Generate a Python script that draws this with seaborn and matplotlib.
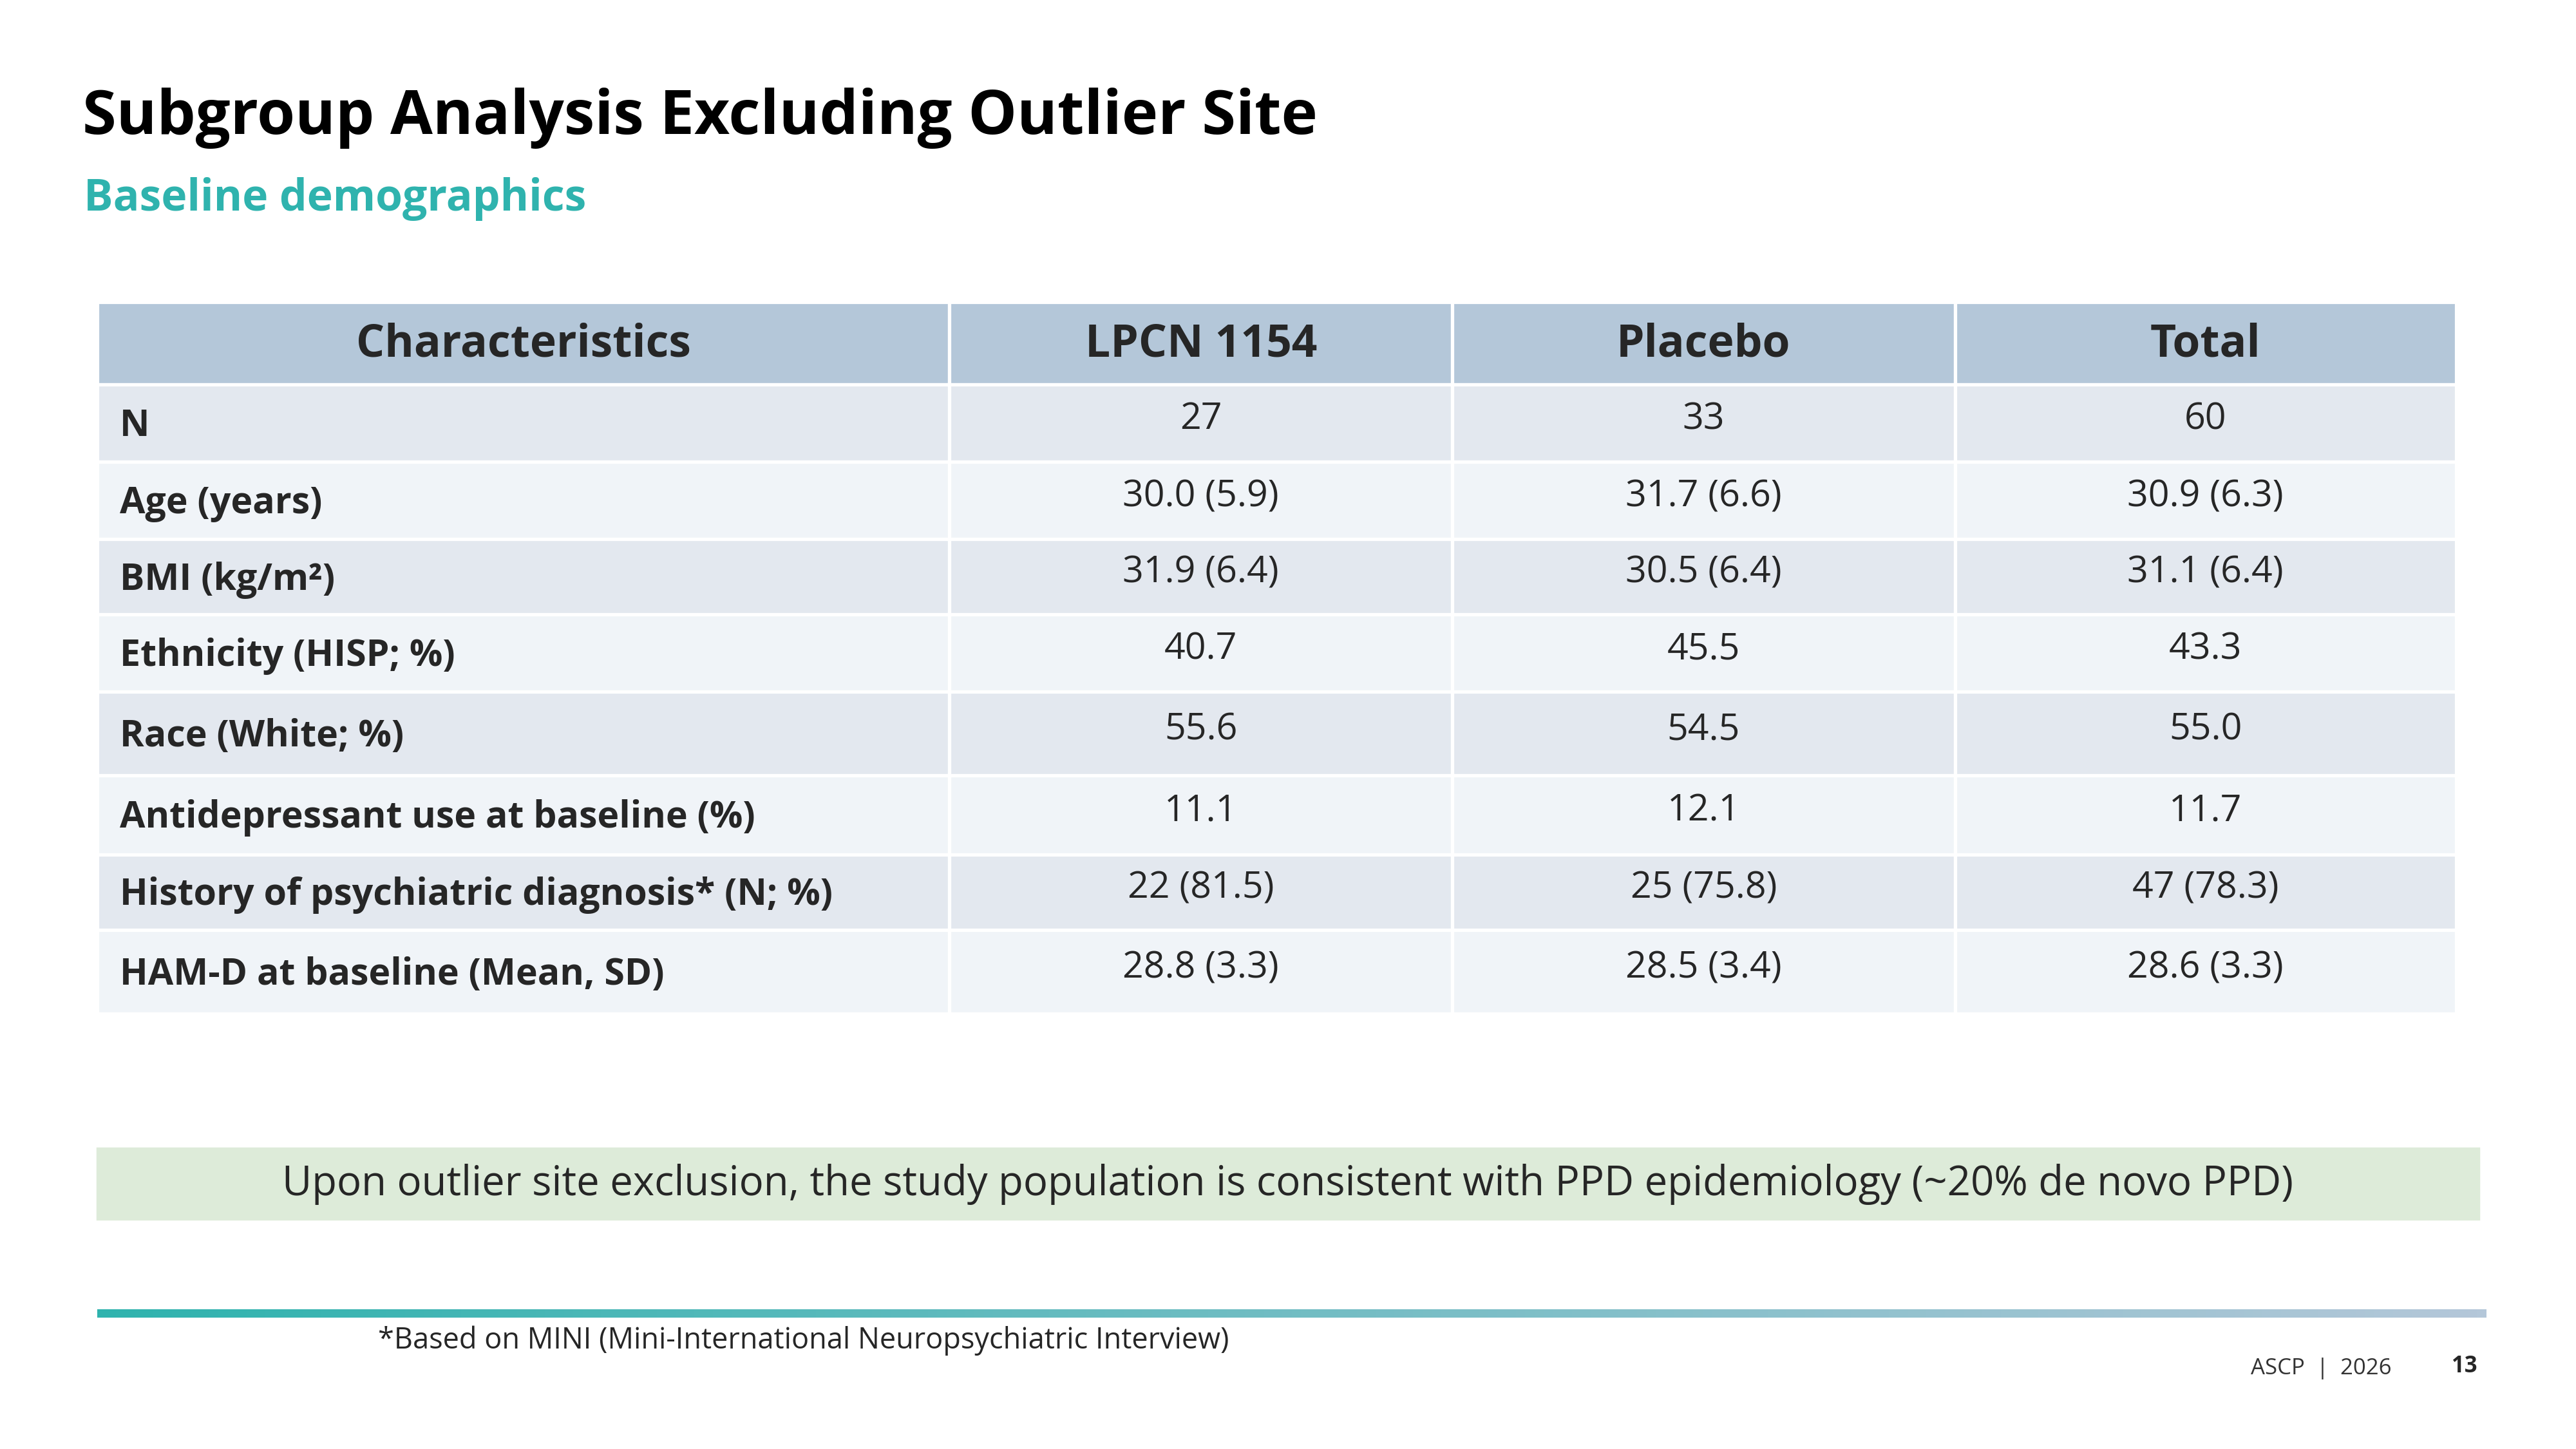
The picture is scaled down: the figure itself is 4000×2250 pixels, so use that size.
import numpy as np
import matplotlib.pyplot as plt
from matplotlib.colors import LinearSegmentedColormap
import seaborn as sns

sns.set_theme(style="white")
plt.rcParams['font.family'] = ['Open Sans', 'DejaVu Sans']

# table content
headers = ["Characteristics", "LPCN 1154", "Placebo", "Total"]
characteristics = ["N", "Age (years)", "BMI (kg/m²)", "Ethnicity (HISP; %)", "Race (White; %)",
                   "Antidepressant use at baseline (%)", "History of psychiatric diagnosis* (N; %)",
                   "HAM-D at baseline (Mean, SD)"]
lpcn = ["27", "30.0 (5.9)", "31.9 (6.4)", "40.7", "55.6", "11.1", "22 (81.5)", "28.8 (3.3)"]
placebo = ["33", "31.7 (6.6)", "30.5 (6.4)", "45.5", "54.5", "12.1", "25 (75.8)", "28.5 (3.4)"]
total = ["60", "30.9 (6.3)", "31.1 (6.4)", "43.3", "55.0", "11.7", "47 (78.3)", "28.6 (3.3)"]

W, H = 1568, 882
fig = plt.figure(figsize=(16, 9), dpi=250)
fig.patch.set_facecolor("white")

def fx(x): return x / W
def fy(y): return 1 - y / H

fig.text(fx(50), fy(72), "Subgroup Analysis Excluding Outlier Site", fontsize=27.5,
         fontweight="bold", color="black", va="center")
fig.text(fx(51), fy(121), "Baseline demographics", fontsize=19.5, fontweight="bold",
         color="#2FB3AE", va="center")

# table axes in pixel-like coordinates
ax = fig.add_axes([fx(59), fy(617), fx(1495 - 59), (617 - 184) / H])
col_edges = [59, 578, 884, 1190, 1495]
row_edges = [184, 234, 281, 328, 374, 421, 472, 520, 566, 617]
ax.set_xlim(59, 1495)
ax.set_ylim(617, 184)
ax.axis("off")
lefts = col_edges[:-1]
widths = np.diff(col_edges)
for i in range(len(row_edges) - 1):
    top, bot = row_edges[i], row_edges[i + 1]
    if i == 0:
        color = "#B4C7D9"
    else:
        color = "#E3E8EF" if i % 2 == 1 else "#F0F4F8"
    ax.barh([(top + bot) / 2] * 4, widths, left=lefts, height=bot - top,
            color=color, edgecolor="white", linewidth=1.5)

centers = [(a + b) / 2 for a, b in zip(col_edges[:-1], col_edges[1:])]
hy = (row_edges[0] + row_edges[1]) / 2
for c, h in zip(centers, headers):
    ax.text(c, hy + 1, h, ha="center", va="center", fontsize=20, fontweight="bold")
for i, (ch, a, b, t) in enumerate(zip(characteristics, lpcn, placebo, total)):
    top, bot = row_edges[i + 1], row_edges[i + 2]
    y = (top + bot) / 2
    ax.text(73, y + 2, ch, ha="left", va="center", fontsize=16.5, fontweight="bold")
    for c, v in zip(centers[1:], [a, b, t]):
        ax.text(c, y - 2, v, ha="center", va="center", fontsize=16.5)

# green takeaway box
fig.patches.append(plt.Rectangle((fx(59), fy(742)), fx(1509 - 59), (742 - 699) / H,
                                 transform=fig.transFigure, color="#DDEBD9", zorder=0))
fig.text(fx(784), fy(721), "Upon outlier site exclusion, the study population is consistent "
         "with PPD epidemiology (~20% de novo PPD)", fontsize=18.3, ha="center", va="center")

# gradient rule
gax = fig.add_axes([fx(59), fy(802), fx(1513 - 59), 5 / H])
cmap = LinearSegmentedColormap.from_list("rule", ["#2FB3AE", "#B4C7D9"])
gax.imshow(np.linspace(0, 1, 256)[None, :], aspect="auto", cmap=cmap)
gax.axis("off")

fig.text(fx(230), fy(816), "*Based on MINI (Mini-International Neuropsychiatric Interview)",
         fontsize=13, va="center")
fig.text(fx(1370), fy(833), "ASCP  |  2026", fontsize=10, va="center", color="#333333")
fig.text(fx(1508), fy(832), "13", fontsize=10, fontweight="bold", va="center", ha="right")

fig.savefig("out.png", dpi=250, facecolor="white")
